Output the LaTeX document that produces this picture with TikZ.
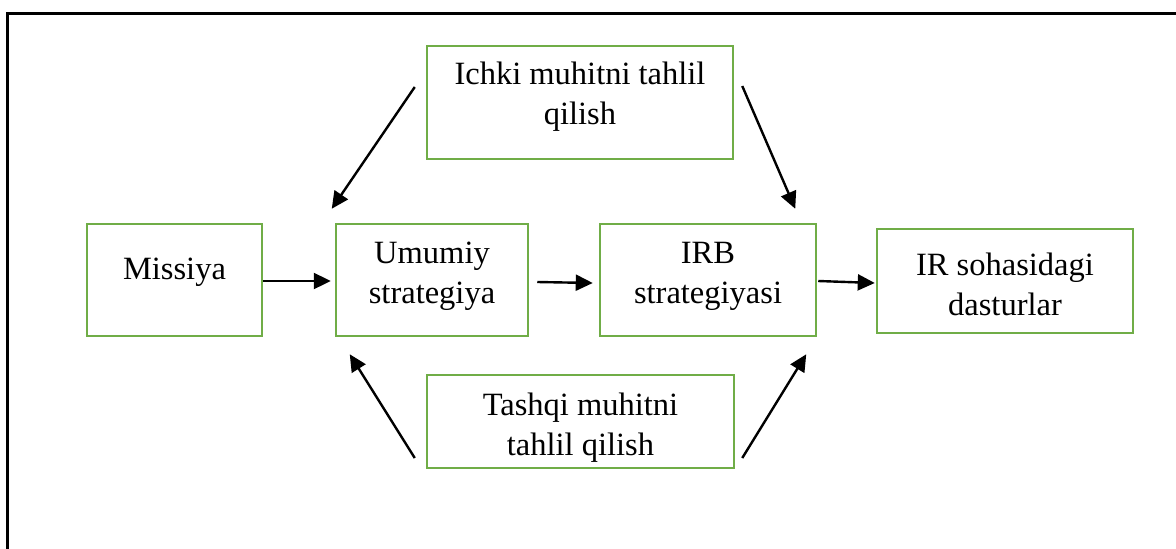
\documentclass[tikz,border=0pt]{standalone}
\usepackage{fontspec}
\setmainfont{Liberation Serif}
\usetikzlibrary{arrows.meta,calc}
\definecolor{boxgreen}{RGB}{112,173,71}
\tikzset{
  box/.style={draw=boxgreen, line width=2.5pt, rectangle, inner sep=0pt},
  txt/.style={align=center, inner sep=0pt, font=\fontsize{32.5}{40}\selectfont},
  arr/.style={line width=2.4pt, -{Triangle[length=17pt,width=16pt]}},
}
\begin{document}
\begin{tikzpicture}[x=1pt,y=-1pt]
\useasboundingbox (0,0) rectangle (1176,549);
\draw[line width=3pt] (7,549) -- (7,13) -- (1176,13);
% boxes
\node[box, minimum width=175pt, minimum height=112pt] (m) at (174.5,280) {};
\node[box, minimum width=192pt, minimum height=112pt] (u) at (432,280) {};
\node[box, minimum width=216pt, minimum height=112pt] (r) at (708,280) {};
\node[box, minimum width=256pt, minimum height=104pt] (d) at (1005,281) {};
\node[box, minimum width=306pt, minimum height=113pt] (i) at (580,102.5) {};
\node[box, minimum width=307pt, minimum height=93pt] (t) at (580.5,421.5) {};
% texts
\node[txt] (mt) at (174.5,272) {Missiya};
\node[txt] (ut) at (432,276) {Umumiy\\strategiya};
\node[txt] (rt) at (708,276) {IRB\\strategiyasi};
\node[txt] (dt) at (1005,284.5) {IR sohasidagi\\dasturlar};
\node[txt] (it) at (580,97) {Ichki muhitni tahlil\\qilish};
\node[txt] (tt) at (580.5,427.5) {Tashqi muhitni\\tahlil qilish};
% connectors
\draw[arr] ($(m.east)+(0,1)$) -- ($(u.west)+(-4,1)$);
\draw[arr] ($(u.east)+(8,2)$) -- ($(r.west)+(-6,3)$);
\draw[arr] ($(r.east)+(1,1)$) -- ($(d.west)+(-1,2)$);
\draw[arr] ($(i.west)+(-11,-15.5)$) -- ($(u.north west)+(-3,-14)$);
\draw[arr] ($(i.east)+(8,-16.5)$) -- ($(r.north east)+(-22,-14)$);
\draw[arr] ($(t.west)+(-11,36.5)$) -- ($(u.south west)+(15,17)$);
\draw[arr] ($(t.east)+(7,36.5)$) -- ($(r.south east)+(-11,17)$);
\end{tikzpicture}
\end{document}
